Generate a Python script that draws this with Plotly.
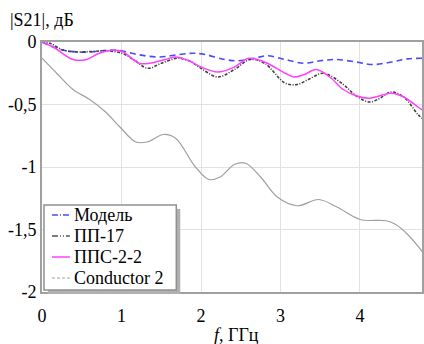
import plotly.graph_objects as go

f_model = [0, 0.23, 0.45, 0.6, 0.85, 1.0, 1.2, 1.47, 1.72, 1.9, 2.05, 2.3, 2.46, 2.67, 2.83, 3.06, 3.29, 3.5, 3.7, 3.95, 4.16, 4.4, 4.6, 4.8]
s_model = [0, -0.06, -0.08, -0.08, -0.065, -0.07, -0.1, -0.12, -0.1, -0.09, -0.1, -0.14, -0.15, -0.13, -0.11, -0.14, -0.17, -0.15, -0.14, -0.16, -0.18, -0.16, -0.135, -0.13]

f_pp17 = [0, 0.1, 0.27, 0.47, 0.65, 0.81, 1.0, 1.15, 1.33, 1.5, 1.7, 1.85, 2.0, 2.21, 2.42, 2.62, 2.8, 3.06, 3.21, 3.35, 3.54, 3.79, 3.95, 4.12, 4.25, 4.39, 4.55, 4.73, 4.8]
s_pp17 = [0, -0.01, -0.065, -0.08, -0.075, -0.07, -0.09, -0.14, -0.21, -0.17, -0.13, -0.15, -0.21, -0.28, -0.22, -0.14, -0.17, -0.33, -0.34, -0.3, -0.25, -0.34, -0.43, -0.48, -0.45, -0.40, -0.44, -0.58, -0.62]

f_pps = [0, 0.14, 0.39, 0.56, 0.72, 0.89, 1.02, 1.22, 1.35, 1.55, 1.68, 1.85, 2.0, 2.21, 2.42, 2.6, 2.8, 3.06, 3.17, 3.3, 3.45, 3.62, 3.79, 3.95, 4.12, 4.25, 4.39, 4.55, 4.73, 4.8]
s_pps = [0, -0.04, -0.14, -0.14, -0.09, -0.065, -0.08, -0.17, -0.17, -0.14, -0.12, -0.15, -0.2, -0.24, -0.2, -0.13, -0.16, -0.25, -0.28, -0.26, -0.22, -0.28, -0.38, -0.43, -0.45, -0.43, -0.41, -0.44, -0.52, -0.55]

f_cond = [0, 0.2, 0.39, 0.6, 0.8, 0.98, 1.18, 1.32, 1.53, 1.68, 1.93, 2.1, 2.24, 2.42, 2.56, 2.75, 2.96, 3.21, 3.48, 3.71, 4.0, 4.33, 4.45, 4.6, 4.75, 4.8]
s_cond = [-0.13, -0.26, -0.38, -0.46, -0.56, -0.68, -0.80, -0.80, -0.74, -0.77, -1.0, -1.1, -1.08, -0.98, -0.97, -1.08, -1.24, -1.31, -1.26, -1.32, -1.42, -1.43, -1.46, -1.54, -1.65, -1.69]

series_names = ["Модель", "ПП-17", "ППС-2-2", "Conductor 2"]

x_ticks = [0, 1, 2, 3, 4]
y_ticks = [0, -0.5, -1, -1.5, -2]
y_labels = ["0", "-0,5", "-1", "-1,5", "-2"]

FONT = "Liberation Serif"
FS = 18

L, R, T, B = 42, 0, 42, 52
W, H = 424, 344
plot_w = W - L - R
plot_h = H - T - B


def px(xp):
    return (xp - L) / plot_w


def py(yp):
    return (T + plot_h - yp) / plot_h


styles = [
    dict(color="#4a4aff", width=1.6, dash="6px,4px"),
    dict(color="#404040", width=1.6, dash="3px,1.5px,1px,1.5px"),
    dict(color="#ff40ff", width=1.5, dash="solid"),
    dict(color="#a0a0a0", width=1.2, dash="solid"),
]
data = [(f_model, s_model), (f_pp17, s_pp17), (f_pps, s_pps), (f_cond, s_cond)]

fig = go.Figure()
for (fx, sy), name, st in zip(data, series_names, styles):
    fig.add_trace(go.Scatter(x=fx, y=sy, name=name, mode="lines", showlegend=False,
                             line=dict(color=st["color"], width=st["width"], dash=st["dash"], shape="spline")))

# custom legend box with shadow
shapes = [
    dict(type="rect", xref="paper", yref="paper", x0=px(48), x1=px(181), y0=py(294), y1=py(209),
         fillcolor="#b0b0b0", line=dict(width=0), layer="above"),
    dict(type="rect", xref="paper", yref="paper", x0=px(44), x1=px(177), y0=py(290), y1=py(205),
         fillcolor="white", line=dict(color="#909090", width=1.5), layer="above"),
]
annotations = []
row_y = [215, 236, 257, 278]
legend_styles = [
    dict(color="#4a4aff", width=1.5, dash="6px,2px,1px,2px"),
    dict(color="#505050", width=1.5, dash="6px,2px,1px,2px,1px,2px"),
    dict(color="#ff40ff", width=1.5, dash="solid"),
    dict(color="#a0a0a0", width=1.2, dash="3px,2px"),
]
for name, st, ry in zip(series_names, legend_styles, row_y):
    shapes.append(dict(type="line", xref="paper", yref="paper", x0=px(52), x1=px(70), y0=py(ry), y1=py(ry),
                       line=st, layer="above"))
    annotations.append(dict(text=name, x=px(72), y=py(ry), xref="paper", yref="paper", showarrow=False,
                            xanchor="left", yanchor="middle", font=dict(family=FONT, size=FS, color="black")))

annotations += [
    dict(text="|S21|, дБ", x=px(8), y=py(20), xref="paper", yref="paper", showarrow=False,
         font=dict(family=FONT, size=FS), xanchor="left", yanchor="middle"),
    dict(text="<i>f</i>, ГГц", x=px(238), y=py(335), xref="paper", yref="paper", showarrow=False,
         font=dict(family=FONT, size=FS), xanchor="center", yanchor="middle"),
]

fig.update_layout(
    width=W, height=H,
    margin=dict(l=L, r=R, t=T, b=B),
    paper_bgcolor="white", plot_bgcolor="white",
    font=dict(family=FONT, size=FS, color="black"),
    showlegend=False,
    shapes=shapes,
    annotations=annotations,
    xaxis=dict(range=[0, 4.78], tickvals=x_ticks, ticktext=[str(t) for t in x_ticks],
               showgrid=True, gridcolor="#e2e2e2", gridwidth=1,
               showline=True, linecolor="#a0a0a0", linewidth=2, mirror=True,
               zeroline=False, ticks="", ticklabelstandoff=6,
               tickfont=dict(family=FONT, size=FS)),
    yaxis=dict(range=[-2, 0], tickvals=y_ticks, ticktext=y_labels,
               showgrid=True, gridcolor="#e2e2e2", gridwidth=1,
               showline=True, linecolor="#a0a0a0", linewidth=2, mirror=True,
               zeroline=False, ticks="", tickfont=dict(family=FONT, size=FS)),
)

fig.write_html("out.html")
